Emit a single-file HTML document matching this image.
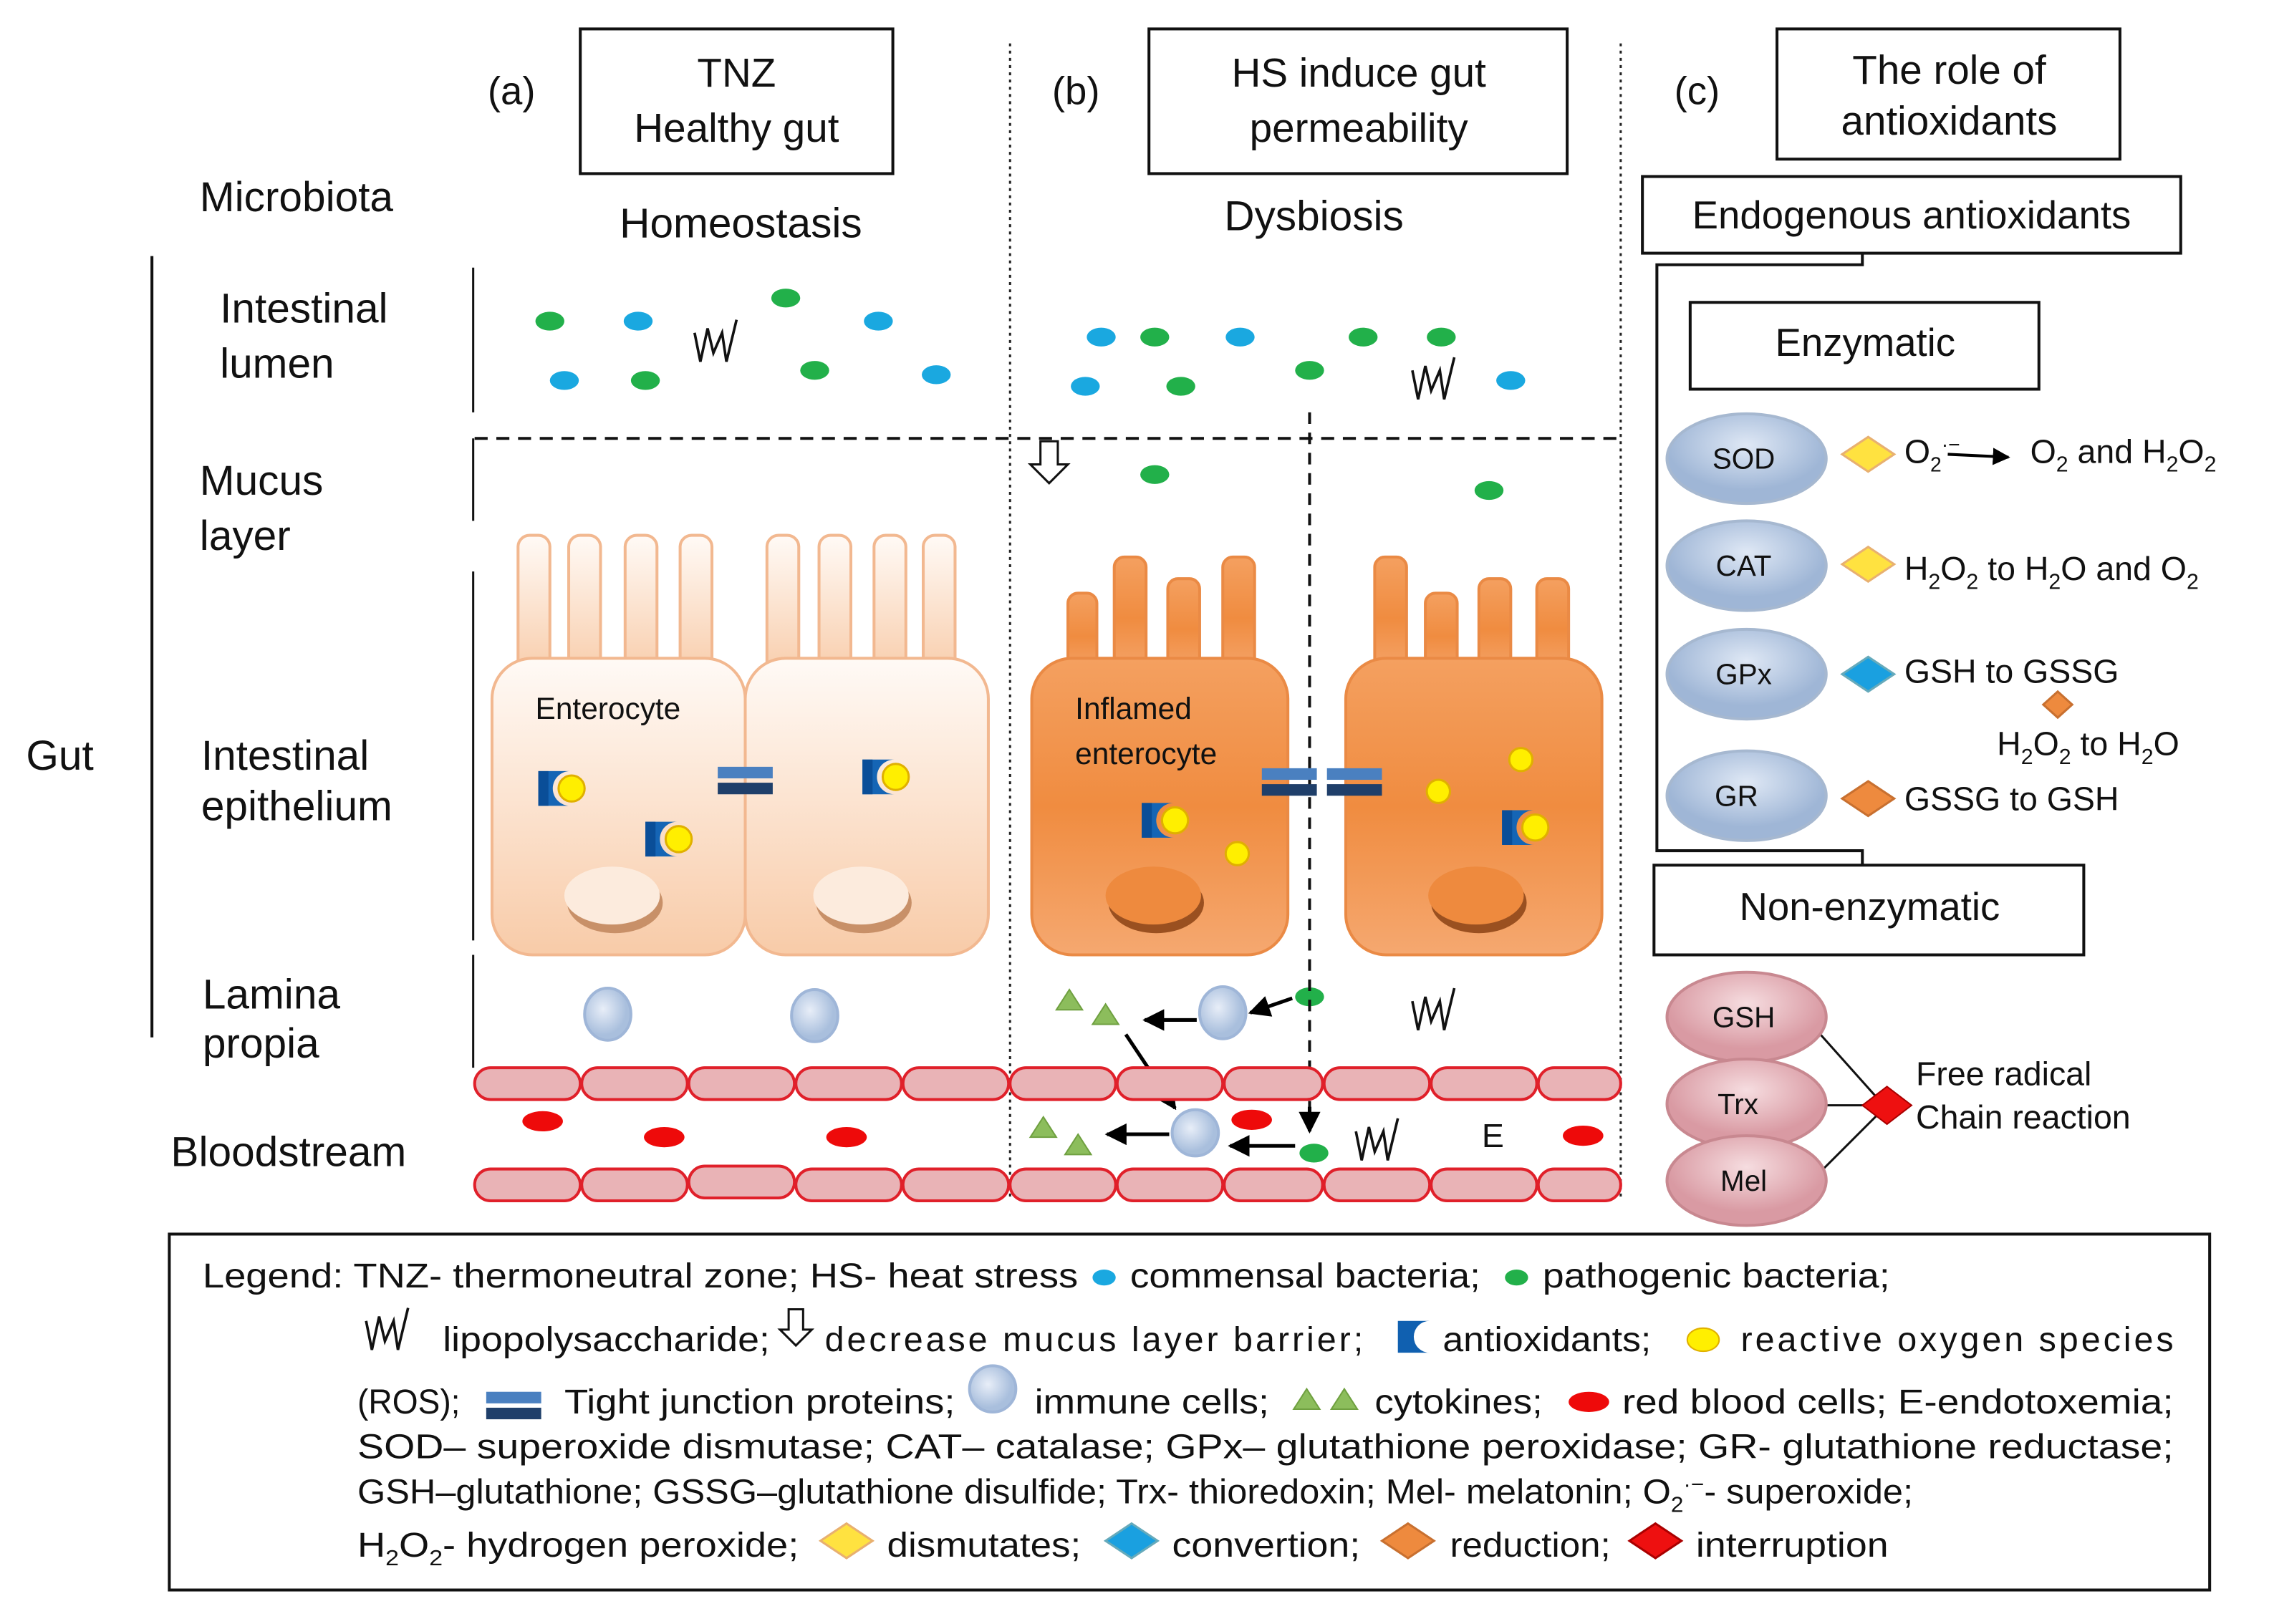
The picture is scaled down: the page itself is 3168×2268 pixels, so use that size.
<!DOCTYPE html>
<html><head><meta charset="utf-8"><style>html,body{margin:0;padding:0;background:#fff}svg{display:block}text{font-family:"Liberation Sans",sans-serif;fill:#111}</style></head>
<body>
<svg width="3168" height="2268" viewBox="0 0 1568 1122.5" preserveAspectRatio="none" xmlns="http://www.w3.org/2000/svg">
<defs>
<linearGradient id="pale" x1="0" y1="0" x2="0" y2="1"><stop offset="0" stop-color="#fffaf6"/><stop offset="1" stop-color="#f8cba8"/></linearGradient>
<linearGradient id="org" x1="0" y1="0" x2="0" y2="1"><stop offset="0" stop-color="#f4a060"/><stop offset="0.5" stop-color="#f08c40"/><stop offset="1" stop-color="#f5a870"/></linearGradient>
<radialGradient id="imm" cx="0.4" cy="0.4"><stop offset="0" stop-color="#e8eef8"/><stop offset="1" stop-color="#a9bfdd"/></radialGradient>
<radialGradient id="enz" cx="0.5" cy="0.35"><stop offset="0" stop-color="#dfe8f5"/><stop offset="1" stop-color="#9fb6d6"/></radialGradient>
<radialGradient id="pnk" cx="0.5" cy="0.35"><stop offset="0" stop-color="#f6dde0"/><stop offset="1" stop-color="#d99aa3"/></radialGradient>
<marker id="ar" viewBox="0 0 10 10" refX="9" refY="5" markerWidth="6" markerHeight="6" orient="auto"><path d="M0,0L10,5L0,10z" fill="#000"/></marker>
<g id="ab"><path d="M-14,-12 H8 A12,12 0 0 0 8,12 H-14Z" fill="#1565b5"/><rect x="-14" y="-12" width="7" height="24" fill="#0a4e98"/><circle cx="9" cy="0" r="9" fill="#ffef00" stroke="#e0b000" stroke-width="1.5"/></g>
<g id="lps"><path d="M0,0 L4,20 L9,-3 L13,14 L19,0 L22,20 L29,-9" fill="none" stroke="#111" stroke-width="1.8"/></g>
<g id="tj"><rect x="-19" y="-10" width="38" height="8" fill="#4a80c0"/><rect x="-19" y="1" width="38" height="8" fill="#1f3f6a"/></g>
</defs>
<rect width="1568" height="1123" fill="#fff"/>

<text x="337" y="72" font-size="27">(a)</text>
<rect x="401" y="20" width="216" height="100" fill="none" stroke="#111" stroke-width="2"/>
<text x="509" y="60" font-size="28" text-anchor="middle">TNZ</text>
<text x="509" y="98" font-size="28" text-anchor="middle">Healthy gut</text>
<text x="727" y="72" font-size="27">(b)</text>
<rect x="794" y="20" width="289" height="100" fill="none" stroke="#111" stroke-width="2"/>
<text x="939" y="60" font-size="28" text-anchor="middle">HS induce gut</text>
<text x="939" y="98" font-size="28" text-anchor="middle">permeability</text>
<text x="1157" y="72" font-size="27">(c)</text>
<rect x="1228" y="20" width="237" height="90" fill="none" stroke="#111" stroke-width="2"/>
<text x="1347" y="58" font-size="28" text-anchor="middle">The role of</text>
<text x="1347" y="93" font-size="28" text-anchor="middle">antioxidants</text>

<line x1="698" y1="30" x2="698" y2="830" stroke="#222" stroke-width="1.5" stroke-dasharray="2,3"/>
<line x1="1120" y1="30" x2="1120" y2="830" stroke="#222" stroke-width="1.5" stroke-dasharray="2,3"/>

<g font-size="29">
<text x="138" y="146">Microbiota</text>
<text x="512" y="164" text-anchor="middle">Homeostasis</text>
<text x="908" y="159" text-anchor="middle">Dysbiosis</text>
<text x="18" y="532">Gut</text>
<text x="152" y="223">Intestinal</text><text x="152" y="261">lumen</text>
<text x="138" y="342">Mucus</text><text x="138" y="380">layer</text>
<text x="139" y="532">Intestinal</text><text x="139" y="567">epithelium</text>
<text x="140" y="697">Lamina</text><text x="140" y="731">propia</text>
<text x="118" y="806">Bloodstream</text>
</g>
<line x1="105" y1="177" x2="105" y2="717" stroke="#111" stroke-width="2"/>
<g stroke="#111" stroke-width="1.5">
<line x1="327" y1="185" x2="327" y2="285"/><line x1="327" y1="303" x2="327" y2="360"/>
<line x1="327" y1="395" x2="327" y2="650"/><line x1="327" y1="660" x2="327" y2="738"/>
</g>
<line x1="328" y1="303" x2="1120" y2="303" stroke="#111" stroke-width="2" stroke-dasharray="9,6"/>

<g fill="#22b04a">
<ellipse cx="380" cy="222" rx="10" ry="6.5"/><ellipse cx="446" cy="263" rx="10" ry="6.5"/><ellipse cx="543" cy="206" rx="10" ry="6.5"/><ellipse cx="563" cy="256" rx="10" ry="6.5"/>
<ellipse cx="798" cy="233" rx="10" ry="6.5"/><ellipse cx="816" cy="267" rx="10" ry="6.5"/><ellipse cx="905" cy="256" rx="10" ry="6.5"/><ellipse cx="942" cy="233" rx="10" ry="6.5"/><ellipse cx="996" cy="233" rx="10" ry="6.5"/>
<ellipse cx="798" cy="328" rx="10" ry="6.5"/><ellipse cx="1029" cy="339" rx="10" ry="6.5"/>
<ellipse cx="905" cy="689" rx="10" ry="6.5"/><ellipse cx="908" cy="797" rx="10" ry="6.5"/>
</g>
<g fill="#1aa8e0">
<ellipse cx="441" cy="222" rx="10" ry="6.5"/><ellipse cx="390" cy="263" rx="10" ry="6.5"/><ellipse cx="607" cy="222" rx="10" ry="6.5"/><ellipse cx="647" cy="259" rx="10" ry="6.5"/>
<ellipse cx="761" cy="233" rx="10" ry="6.5"/><ellipse cx="750" cy="267" rx="10" ry="6.5"/><ellipse cx="857" cy="233" rx="10" ry="6.5"/><ellipse cx="1044" cy="263" rx="10" ry="6.5"/>
</g>
<use href="#lps" x="480" y="230"/><use href="#lps" x="976" y="256"/><use href="#lps" x="976" y="692"/><use href="#lps" x="937" y="782"/>
<path d="M719,305 h12 v16 h7 l-13,13 l-13,-13 h7z" fill="#fff" stroke="#111" stroke-width="1.5"/>
<line x1="905" y1="285" x2="905" y2="770" stroke="#111" stroke-width="2" stroke-dasharray="8,6"/>

<g fill="url(#pale)" stroke="#f2b890" stroke-width="2">
<rect x="358" y="370" width="22" height="100" rx="8"/><rect x="393" y="370" width="22" height="100" rx="8"/><rect x="432" y="370" width="22" height="100" rx="8"/><rect x="470" y="370" width="22" height="100" rx="8"/>
<rect x="530" y="370" width="22" height="100" rx="8"/><rect x="566" y="370" width="22" height="100" rx="8"/><rect x="604" y="370" width="22" height="100" rx="8"/><rect x="638" y="370" width="22" height="100" rx="8"/>
<rect x="340" y="455" width="175" height="205" rx="28"/><rect x="515" y="455" width="168" height="205" rx="28"/>
</g>
<text x="370" y="497" font-size="21">Enterocyte</text>
<g fill="#c89068"><ellipse cx="425" cy="624" rx="33" ry="21"/><ellipse cx="597" cy="624" rx="33" ry="21"/></g>
<g fill="#fcebdd"><ellipse cx="423" cy="619" rx="33" ry="20"/><ellipse cx="595" cy="619" rx="33" ry="20"/></g>
<use href="#ab" x="386" y="545"/><use href="#ab" x="460" y="580"/><use href="#ab" x="610" y="537"/>
<use href="#tj" x="515" y="540"/>

<g fill="url(#org)" stroke="#ea8a45" stroke-width="2">
<rect x="738" y="410" width="20" height="60" rx="7"/><rect x="770" y="385" width="22" height="85" rx="7"/><rect x="807" y="400" width="22" height="70" rx="7"/><rect x="845" y="385" width="22" height="85" rx="7"/>
<rect x="950" y="385" width="22" height="85" rx="7"/><rect x="985" y="410" width="22" height="60" rx="7"/><rect x="1022" y="400" width="22" height="70" rx="7"/><rect x="1062" y="400" width="22" height="70" rx="7"/>
<rect x="713" y="455" width="177" height="205" rx="28"/><rect x="930" y="455" width="177" height="205" rx="28"/>
</g>
<text x="743" y="497" font-size="21">Inflamed</text><text x="743" y="528" font-size="21">enterocyte</text>
<g fill="#9a5020"><ellipse cx="799" cy="624" rx="33" ry="21"/><ellipse cx="1022" cy="624" rx="33" ry="21"/></g>
<g fill="#ee8a3e"><ellipse cx="797" cy="619" rx="33" ry="20"/><ellipse cx="1020" cy="619" rx="33" ry="20"/></g>
<use href="#ab" x="803" y="567"/><use href="#ab" x="1052" y="572"/>
<g fill="#ffef00" stroke="#e0b000" stroke-width="1.5"><circle cx="855" cy="590" r="8"/><circle cx="994" cy="547" r="8"/><circle cx="1051" cy="525" r="8"/></g>
<use href="#tj" x="891" y="541"/><use href="#tj" x="936" y="541"/>

<g fill="url(#imm)" stroke="#9fb6d8" stroke-width="2"><ellipse cx="420" cy="701" rx="16" ry="18"/><ellipse cx="563" cy="702" rx="16" ry="18"/><ellipse cx="845" cy="700" rx="16" ry="18"/><ellipse cx="826" cy="783" rx="16" ry="16"/></g>
<g fill="#8cbd5c" stroke="#6fa040"><path d="M739,684l9,14h-18z"/><path d="M764,694l9,14h-18z"/><path d="M721,772l9,14h-18z"/><path d="M745,784l9,14h-18z"/></g>
<g stroke="#000" stroke-width="2.5" marker-end="url(#ar)">
<line x1="827" y1="705" x2="791" y2="705"/><line x1="893" y1="690" x2="864" y2="700"/>
<line x1="778" y1="715" x2="812" y2="766"/><line x1="808" y1="784" x2="765" y2="784"/><line x1="895" y1="792" x2="850" y2="792"/>
<line x1="905" y1="765" x2="905" y2="782"/>
</g>

<g fill="#e9b3b6" stroke="#e0202a" stroke-width="2">
<rect x="328" y="738" width="73" height="22" rx="11"/><rect x="402" y="738" width="73" height="22" rx="11"/><rect x="476" y="738" width="73" height="22" rx="11"/><rect x="550" y="738" width="73" height="22" rx="11"/><rect x="624" y="738" width="73" height="22" rx="11"/><rect x="698" y="738" width="73" height="22" rx="11"/><rect x="772" y="738" width="73" height="22" rx="11"/><rect x="846" y="738" width="68" height="22" rx="11"/><rect x="915" y="738" width="73" height="22" rx="11"/><rect x="989" y="738" width="73" height="22" rx="11"/><rect x="1063" y="738" width="57" height="22" rx="11"/>
<rect x="328" y="808" width="73" height="22" rx="11"/><rect x="402" y="808" width="73" height="22" rx="11"/><rect x="476" y="806" width="73" height="22" rx="11"/><rect x="550" y="808" width="73" height="22" rx="11"/><rect x="624" y="808" width="73" height="22" rx="11"/><rect x="698" y="808" width="73" height="22" rx="11"/><rect x="772" y="808" width="73" height="22" rx="11"/><rect x="846" y="808" width="68" height="22" rx="11"/><rect x="915" y="808" width="73" height="22" rx="11"/><rect x="989" y="808" width="73" height="22" rx="11"/><rect x="1063" y="808" width="57" height="22" rx="11"/>
</g>
<g fill="#ee0a0a"><ellipse cx="375" cy="775" rx="14" ry="7"/><ellipse cx="459" cy="786" rx="14" ry="7"/><ellipse cx="585" cy="786" rx="14" ry="7"/><ellipse cx="865" cy="774" rx="14" ry="7"/><ellipse cx="1094" cy="785" rx="14" ry="7"/></g>
<text x="1024" y="793" font-size="23">E</text>

<rect x="1135" y="122" width="372" height="53" fill="none" stroke="#111" stroke-width="2"/>
<text x="1321" y="158" font-size="27" text-anchor="middle">Endogenous antioxidants</text>
<path d="M1287,175 V183 H1145 V588 H1287 V598" fill="none" stroke="#111" stroke-width="2"/>
<rect x="1168" y="209" width="241" height="60" fill="#fff" stroke="#111" stroke-width="2"/>
<text x="1289" y="246" font-size="27" text-anchor="middle">Enzymatic</text>
<g fill="url(#enz)" stroke="#a6b8d0" stroke-width="2">
<ellipse cx="1207" cy="317" rx="55" ry="31"/><ellipse cx="1207" cy="391" rx="55" ry="31"/><ellipse cx="1207" cy="466" rx="55" ry="31"/><ellipse cx="1207" cy="550" rx="55" ry="31"/>
</g>
<g font-size="20" text-anchor="middle"><text x="1205" y="324">SOD</text><text x="1205" y="398">CAT</text><text x="1205" y="473">GPx</text><text x="1200" y="557">GR</text></g>
<g stroke-width="1.5">
<path d="M1291,302l18,12l-18,12l-18,-12z" fill="#ffe240" stroke="#e8b070"/>
<path d="M1291,378l18,12l-18,12l-18,-12z" fill="#ffe240" stroke="#e8b070"/>
<path d="M1291,454l18,12l-18,12l-18,-12z" fill="#1aa0e0" stroke="#6ab"/>
<path d="M1291,540l18,12l-18,12l-18,-12z" fill="#ee8a3e" stroke="#c87030"/>
<path d="M1422,478l10,9l-10,9l-10,-9z" fill="#ee8a3e" stroke="#c87030"/>
</g>
<g font-size="23">
<text x="1316" y="320">O<tspan font-size="14" dy="6">2</tspan><tspan font-size="14" dy="-14">·−</tspan></text>
<line x1="1346" y1="314" x2="1388" y2="316" stroke="#000" stroke-width="2" marker-end="url(#ar)"/>
<text x="1403" y="320">O<tspan font-size="15" dy="6">2</tspan><tspan dy="-6"> and H</tspan><tspan font-size="15" dy="6">2</tspan><tspan dy="-6">O</tspan><tspan font-size="15" dy="6">2</tspan></text>
<text x="1316" y="401">H<tspan font-size="15" dy="6">2</tspan><tspan dy="-6">O</tspan><tspan font-size="15" dy="6">2</tspan><tspan dy="-6"> to H</tspan><tspan font-size="15" dy="6">2</tspan><tspan dy="-6">O and O</tspan><tspan font-size="15" dy="6">2</tspan></text>
<text x="1316" y="472">GSH to GSSG</text>
<text x="1380" y="522">H<tspan font-size="15" dy="6">2</tspan><tspan dy="-6">O</tspan><tspan font-size="15" dy="6">2</tspan><tspan dy="-6"> to H</tspan><tspan font-size="15" dy="6">2</tspan><tspan dy="-6">O</tspan></text>
<text x="1316" y="560">GSSG to GSH</text>
</g>
<rect x="1143" y="598" width="297" height="62" fill="#fff" stroke="#111" stroke-width="2"/>
<text x="1292" y="636" font-size="27" text-anchor="middle">Non-enzymatic</text>
<g stroke="#111" stroke-width="1.5"><line x1="1258" y1="715" x2="1300" y2="762"/><line x1="1262" y1="764" x2="1288" y2="764"/><line x1="1258" y1="810" x2="1300" y2="768"/></g>
<g fill="url(#pnk)" stroke="#c88890" stroke-width="2">
<ellipse cx="1207" cy="703" rx="55" ry="31"/><ellipse cx="1207" cy="763" rx="55" ry="31"/><ellipse cx="1207" cy="816" rx="55" ry="31"/>
</g>
<g font-size="20" text-anchor="middle"><text x="1205" y="710">GSH</text><text x="1201" y="770">Trx</text><text x="1205" y="823">Mel</text></g>
<path d="M1304,751l17,13l-17,13l-17,-13z" fill="#ee1010" stroke="#a00"/>
<text x="1324" y="750" font-size="23">Free radical</text>
<text x="1324" y="780" font-size="23">Chain reaction</text>

<rect x="117" y="853" width="1410" height="246" fill="none" stroke="#111" stroke-width="2"/>
<g font-size="24">
<text x="140" y="890" textLength="605" lengthAdjust="spacingAndGlyphs">Legend: TNZ- thermoneutral zone; HS- heat stress</text>
<ellipse cx="763" cy="883" rx="8" ry="5.5" fill="#1aa8e0"/>
<text x="781" y="890" textLength="242" lengthAdjust="spacingAndGlyphs">commensal bacteria;</text>
<ellipse cx="1048" cy="883" rx="8" ry="5.5" fill="#22b04a"/>
<text x="1066" y="890" textLength="240" lengthAdjust="spacingAndGlyphs">pathogenic bacteria;</text>

<text x="306" y="934" textLength="226" lengthAdjust="spacingAndGlyphs">lipopolysaccharide;</text>
<text x="570" y="934" textLength="372" lengthAdjust="spacing">decrease mucus layer barrier;</text>
<text x="997" y="934" textLength="144" lengthAdjust="spacingAndGlyphs">antioxidants;</text>
<text x="1203" y="934" textLength="299" lengthAdjust="spacing">reactive oxygen species</text>

<text x="247" y="977" textLength="71" lengthAdjust="spacingAndGlyphs">(ROS);</text>
<text x="390" y="977" textLength="270" lengthAdjust="spacingAndGlyphs">Tight junction proteins;</text>
<text x="715" y="977" textLength="162" lengthAdjust="spacingAndGlyphs">immune cells;</text>
<text x="950" y="977" textLength="116" lengthAdjust="spacingAndGlyphs">cytokines;</text>
<text x="1121" y="977" textLength="381" lengthAdjust="spacingAndGlyphs">red blood cells; E-endotoxemia;</text>

<text x="247" y="1008" textLength="1255" lengthAdjust="spacingAndGlyphs">SOD– superoxide dismutase; CAT– catalase; GPx– glutathione peroxidase; GR- glutathione reductase;</text>
<text x="247" y="1039" textLength="1075" lengthAdjust="spacingAndGlyphs">GSH–glutathione; GSSG–glutathione disulfide; Trx- thioredoxin; Mel- melatonin; O<tspan font-size="15" dy="6">2</tspan><tspan font-size="15" dy="-14">·−</tspan><tspan dy="8">- superoxide;</tspan></text>
<text x="247" y="1076" textLength="305" lengthAdjust="spacingAndGlyphs">H<tspan font-size="15" dy="6">2</tspan><tspan dy="-6">O</tspan><tspan font-size="15" dy="6">2</tspan><tspan dy="-6">- hydrogen peroxide;</tspan></text>
<text x="613" y="1076" textLength="134" lengthAdjust="spacingAndGlyphs">dismutates;</text>
<text x="810" y="1076" textLength="130" lengthAdjust="spacingAndGlyphs">convertion;</text>
<text x="1002" y="1076" textLength="111" lengthAdjust="spacingAndGlyphs">reduction;</text>
<text x="1172" y="1076" textLength="133" lengthAdjust="spacingAndGlyphs">interruption</text>
</g>
<use href="#lps" x="253" y="913"/>
<path d="M545,905 h10 v14 h6 l-11,11 l-11,-11 h6z" fill="#fff" stroke="#111" stroke-width="1.5"/>
<path d="M966,913 H988 A11,11 0 0 0 988,935 H966Z" fill="#1060b0"/>
<ellipse cx="1177" cy="926" rx="11" ry="8" fill="#ffef00" stroke="#e0b000"/>
<use href="#tj" x="355" y="972"/>
<ellipse cx="686" cy="960" rx="16" ry="16" fill="url(#imm)" stroke="#9fb6d8" stroke-width="2"/>
<g fill="#8cbd5c" stroke="#6fa040"><path d="M903,960l9,14h-18z"/><path d="M929,960l9,14h-18z"/></g>
<ellipse cx="1098" cy="969" rx="14" ry="7" fill="#ee0a0a"/>
<g stroke-width="1.5">
<path d="M585,1053l18,12l-18,12l-18,-12z" fill="#ffe240" stroke="#e8b070"/>
<path d="M782,1053l18,12l-18,12l-18,-12z" fill="#1aa0e0" stroke="#6ab"/>
<path d="M973,1053l18,12l-18,12l-18,-12z" fill="#ee8a3e" stroke="#c87030"/>
<path d="M1144,1053l18,12l-18,12l-18,-12z" fill="#ee1010" stroke="#a00"/>
</g>
</svg>
</body></html>
